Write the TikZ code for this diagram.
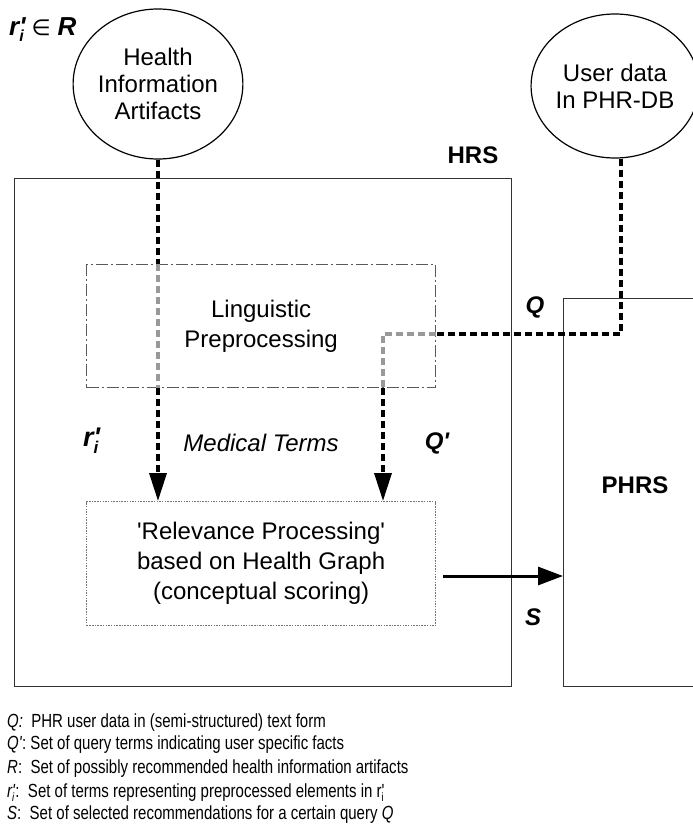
\documentclass[tikz,border=0pt]{standalone}
\usepackage{fontspec}
\setmainfont{Liberation Sans}[Ligatures=TeXOff]
\newfontfamily\symfont{DejaVu Sans}
\newfontfamily\legfont{Liberation Sans}[Ligatures=TeXOff,FakeStretch=0.79]
\usetikzlibrary{arrows.meta,shapes.geometric,calc}
\newcommand{\subi}[2]{\rlap{\raisebox{#1}{\fontsize{#2}{#2}\selectfont i}}}
\begin{document}
\begin{tikzpicture}[x=1pt,y=-1pt,
  lab/.style={font=\fontsize{24}{30}\selectfont\bfseries\itshape, inner sep=0pt},
  ell/.style={draw, ellipse, line width=1.2pt, inner sep=0pt, align=center, font=\fontsize{24}{27}\selectfont},
  sysbox/.style={draw=black!80, line width=1.2pt, rectangle, inner sep=0pt},
  lingbox/.style={draw=black!65, line width=1.3pt, dash pattern=on 12pt off 3pt on 2pt off 3pt, rectangle, inner sep=0pt, align=center, font=\fontsize{24}{30}\selectfont},
  relbox/.style={draw=black!55, line width=1.2pt, dash pattern=on 1.5pt off 1.2pt, rectangle, inner sep=0pt, align=center, font=\fontsize{24}{30}\selectfont},
  flowk/.style={line width=3.5pt, dash pattern=on 7pt off 4pt, black},
  flowg/.style={line width=3.5pt, dash pattern=on 7pt off 4pt, black!40},
  tip/.style={-{Triangle[length=28pt,width=17pt]}},
  leg/.style={font=\legfont\fontsize{19}{22}\selectfont, anchor=base west, inner sep=0pt}
]
\useasboundingbox (0,0) rectangle (693,828);
\clip (0,0) rectangle (693,828);

% ellipses
\node[ell, minimum width=166pt, minimum height=150pt] (hia) at (158,84) {Health\\Information\\Artifacts};
\node[ell, minimum width=156pt, minimum height=144pt] (ud) at (615,86) {User data\\In PHR-DB};

% boxes
\node[sysbox, minimum width=497pt, minimum height=508pt, anchor=north west] (hrs) at (14,178) {};
\node[sysbox, minimum width=170pt, minimum height=388pt, anchor=north west] (phrs) at (563,298) {};
\node[lingbox, minimum width=349pt, minimum height=123pt, anchor=north west] (ling) at (86,264) {Linguistic\\Preprocessing};
\node[relbox, minimum width=349pt, minimum height=124pt, anchor=north west] (rel) at (86,501) {'Relevance Processing'\\based on Health Graph\\(conceptual scoring)};

% labels
\node[font=\fontsize{24}{30}\selectfont\bfseries, inner sep=0pt] (hrslab) at (473,155) {HRS};
\node[font=\fontsize{24}{30}\selectfont\bfseries, inner sep=0pt] (phrslab) at (635,485) {PHRS};
\node[lab] (qlab) at (535,307) {Q};
\node[lab] (qplab) at (437,443) {Q'};
\node[lab] (slab) at (533,617) {S};
\node[lab, font=\fontsize{27}{30}\selectfont\bfseries\itshape, anchor=west] (rilab) at (83,441) {r\subi{-7pt}{17}'};
\node[font=\fontsize{24}{30}\selectfont\itshape, inner sep=0pt] (medlab) at (261,443) {Medical Terms};
\node[font=\fontsize{26}{28}\selectfont\bfseries\itshape, inner sep=0pt, anchor=west] (rinr) at (9,30) {r\subi{-6pt}{16}'\hspace{6pt}{\symfont\mdseries\upshape\fontsize{22}{24}\selectfont ∈}\hspace{7pt}R};

% flow from artifacts
\coordinate (a1) at (hia.south |- ling.north);
\coordinate (a2) at (hia.south |- ling.south);
\coordinate (a3) at (hia.south |- rel.north);
\draw[flowk] (hia.south) -- (a1);
\draw[flowg] (a1) -- (a2);
\draw[flowk,tip] (a2) -- (a3);

% flow from user data
\coordinate (qtop) at ([xshift=6pt]ud.south);
\coordinate (qc) at (621,334);
\coordinate (qe) at (ling.east |- qc);
\coordinate (qb) at (383,334);
\coordinate (qd) at (qb |- ling.south);
\coordinate (qf) at (qb |- rel.north);
\draw[flowk] (qtop) -- (qc) -- (qe);
\draw[flowg] (qe) -- (qb) -- (qd);
\draw[flowk,tip] (qd) -- (qf);

% S arrow
\coordinate (s0) at (443,576);
\draw[line width=3pt, -{Triangle[length=25pt,width=18pt]}] (s0) -- (s0 -| phrs.west);

% legend
\node[leg] (l1) at (7,727) {\textit{Q:}\ \ PHR user data in (semi-structured) text form};
\node[leg] (l2) at (7,749) {\textit{Q'}: Set of query terms indicating user specific facts};
\node[leg] (l3) at (7,773) {\textit{R}:\ \ Set of possibly recommended health information artifacts};
\node[leg] (l4) at (7,797) {\textit{r\subi{-4pt}{12}'}:\ \ Set of terms representing preprocessed elements in r\subi{-4pt}{12}'};
\node[leg] (l5) at (7,819) {\textit{S}:\ \ Set of selected recommendations for a certain query \textit{Q}};
\end{tikzpicture}
\end{document}
